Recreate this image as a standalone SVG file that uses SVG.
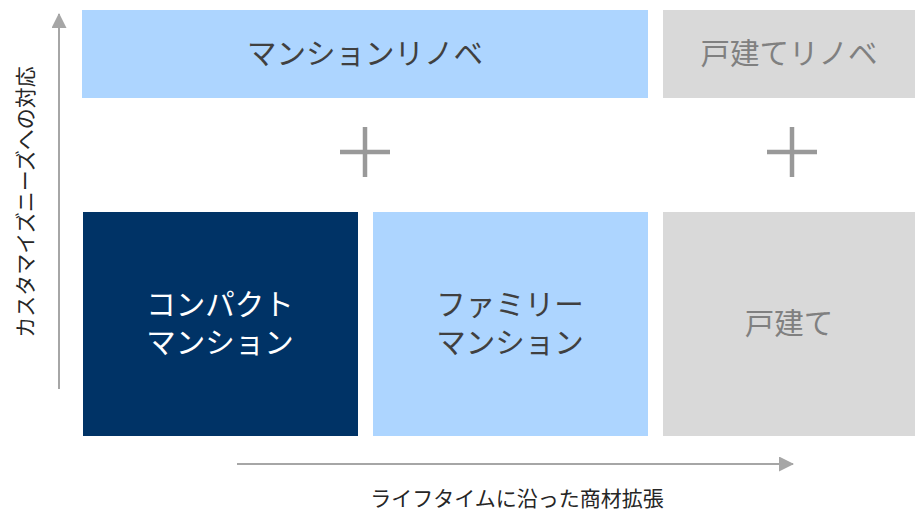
<svg xmlns="http://www.w3.org/2000/svg" width="915" height="511" viewBox="0 0 915 511">
<style>
text{font-family:"Noto Sans CJK JP","Liberation Sans",sans-serif;text-anchor:middle}
.lb{fill:#ADD5FF}.gr{fill:#D9D9D9}.dk{fill:#003366}
.big{font-size:29.5px}
.t1{fill:#404040}.t2{fill:#808080}.tw{fill:#FFFFFF}
.ax{font-size:21px;fill:#262626}
.plus{stroke:#999999;stroke-width:4.5}
.arr{stroke:#A6A6A6;stroke-width:2;fill:none}
</style>
<defs>
<marker id="ah" markerWidth="15" markerHeight="15" refX="14" refY="7.5" orient="auto" markerUnits="userSpaceOnUse" viewBox="0 0 15 15">
<path d="M0,0 L15,7.5 L0,15 Z" fill="#A6A6A6"/>
</marker>
</defs>
<g id="mansion-renove"><rect class="lb" x="82" y="10" width="566" height="88"/><text class="big t1" x="365" y="64">マンションリノベ</text></g>
<g id="house-renove"><rect class="gr" x="663" y="10" width="252" height="88"/><text class="big t2" x="789" y="64">戸建てリノベ</text></g>
<g id="plus1"><line class="plus" x1="340" y1="152" x2="390" y2="152"/><line class="plus" x1="365" y1="127" x2="365" y2="177"/></g>
<g id="plus2"><line class="plus" x1="767" y1="152" x2="817" y2="152"/><line class="plus" x1="792" y1="127" x2="792" y2="177"/></g>
<g id="compact"><rect class="dk" x="83" y="212" width="275" height="224"/><text class="big tw" x="220" y="315">コンパクト</text><text class="big tw" x="220" y="353">マンション</text></g>
<g id="family"><rect class="lb" x="373" y="212" width="275" height="224"/><text class="big t1" x="510" y="315">ファミリー</text><text class="big t1" x="510" y="353">マンション</text></g>
<g id="house"><rect class="gr" x="663" y="212" width="252" height="224"/><text class="big t2" x="789" y="334">戸建て</text></g>
<g id="connectors">
<line class="arr" x1="59" y1="389" x2="59" y2="14" marker-end="url(#ah)"/>
<line class="arr" x1="237" y1="464" x2="793" y2="464" marker-end="url(#ah)"/>
</g>
<text class="ax" x="517" y="506">ライフタイムに沿った商材拡張</text>
<text class="ax" transform="translate(33,202) rotate(-90)" x="0" y="0">カスタマイズニーズへの対応</text>
</svg>
